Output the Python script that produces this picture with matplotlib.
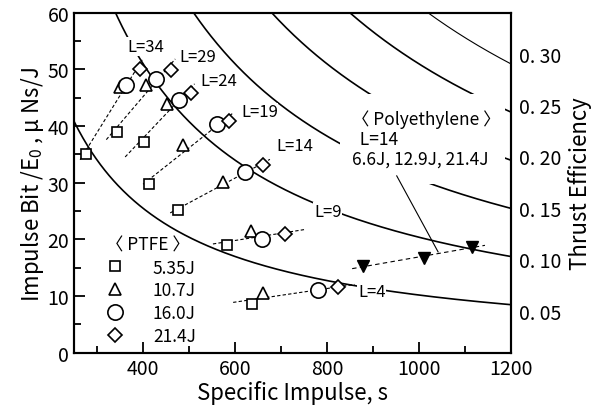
import numpy as np
import matplotlib
matplotlib.use("Agg")
import matplotlib.pyplot as plt
from matplotlib.lines import Line2D
from matplotlib.patches import Rectangle
from matplotlib.ticker import MultipleLocator

plt.rcParams['font.family'] = ['Noto Sans CJK JP', 'DejaVu Sans']
plt.rcParams['mathtext.default'] = 'regular'

# PTFE data: specific impulse (s) and impulse bit / E0 (uNs/J)
# one list per discharge energy, ordered L = 34, 29, 24, 19, 14, 9, 4
L_values = [34, 29, 24, 19, 14, 9, 4]
isp_535 = [275, 344, 402, 413, 476, 583, 637]
ib_535 = [35.0, 39.0, 37.2, 29.7, 25.2, 19.1, 8.6]
isp_107 = [350, 406, 452, 487, 574, 635, 661]
ib_107 = [46.8, 47.3, 43.9, 36.7, 30.1, 21.4, 10.6]
isp_160 = [362, 428, 478, 561, 622, 659, 781]
ib_160 = [47.3, 48.3, 44.6, 40.4, 31.8, 20.1, 11.0]
isp_214 = [394, 461, 504, 588, 661, 709, 825]
ib_214 = [50.0, 49.8, 45.9, 40.9, 33.2, 21.0, 11.6]

# dashed trend line extent for each L (specific impulse, s)
line_start = [263, 320, 361, 400, 459, 552, 596]
line_end = [398, 470, 512, 594, 676, 752, 860]

# Polyethylene, L=14 (6.6J, 12.9J, 21.4J)
isp_pe = [879, 1011, 1116]
ib_pe = [15.3, 16.8, 18.7]
pe_start, pe_end = 855, 1144

# constant thrust efficiency curves
eta_levels = [0.05, 0.10, 0.15, 0.20, 0.25, 0.30]
g0 = 9.81

fig = plt.figure(figsize=(5.98, 4.10), dpi=100)
ax = fig.add_axes([0.124, 0.137, 0.730, 0.830])

isp_grid = np.linspace(250, 1200, 400)
for eta in eta_levels:
    lw = 0.8 if eta == 0.30 else 1.2
    ax.plot(isp_grid, 2 * eta / (g0 * isp_grid) * 1e6, color='black', lw=lw, zorder=1)

# dashed fit line for each L group
for i in range(len(L_values)):
    xs = [isp_535[i], isp_107[i], isp_160[i], isp_214[i]]
    ys = [ib_535[i], ib_107[i], ib_160[i], ib_214[i]]
    k, b = np.polyfit(xs, ys, 1)
    xl = np.array([line_start[i], line_end[i]])
    ax.plot(xl, k * xl + b, color='black', lw=0.8, ls=(0, (3, 2)), zorder=2)

k, b = np.polyfit(isp_pe, ib_pe, 1)
xl = np.array([pe_start, pe_end])
ax.plot(xl, k * xl + b, color='black', lw=0.8, ls=(0, (4, 3)), zorder=2)

mk = dict(ls='none', mfc='white', mec='black', mew=1.2, zorder=4)
ax.plot(isp_535, ib_535, marker='s', ms=7, **mk)
ax.plot(isp_107, ib_107, marker='^', ms=8.5, **mk)
ax.plot(isp_160, ib_160, marker='o', ms=11, **mk)
ax.plot(isp_214, ib_214, marker='D', ms=7, **mk)
ax.plot(isp_pe, ib_pe, marker='v', ms=8, ls='none', color='black', zorder=4)

# L labels
label_pos = [(365, 54.0), (480, 52.2), (524, 48.0), (613, 42.5),
             (691, 36.5), (772, 24.9), (868, 10.9)]
for L, (x, y) in zip(L_values, label_pos):
    ax.text(x, y, f"L={L}", fontsize=12, ha='left', va='center', zorder=5,
            bbox=dict(fc='white', ec='none', pad=0.5))

# Polyethylene note on a white patch that hides the curves behind it
ax.add_patch(Rectangle((0.609, 0.497), 0.378, 0.265, transform=ax.transAxes,
                       fc='white', ec='none', zorder=4.5))
ax.text(855, 37.8, "〈 Polyethylene 〉\n  L=14\n6.6J, 12.9J, 21.4J", fontsize=12.5,
        ha='left', va='center', linespacing=1.1, zorder=5)
ax.plot([952, 1042], [31.2, 17.8], color='black', lw=0.8, zorder=5)

# PTFE legend
handles = [Line2D([], [], marker=m, ms=s, ls='none', mfc='white', mec='black', mew=1.2)
           for m, s in [('s', 7), ('^', 8.5), ('o', 11), ('D', 7)]]
leg = ax.legend(handles, ["5.35J", "10.7J", "16.0J", "21.4J"], title="〈 PTFE 〉",
                loc='upper left', bbox_to_anchor=(0.045, 0.38), frameon=False,
                fontsize=12.5, title_fontsize=12.5, handlelength=1.0,
                handletextpad=1.7, labelspacing=0.28, borderpad=0.2)
leg._legend_box.align = 'left'

ax.set_xlim(250, 1200)
ax.set_ylim(0, 60)
ax.xaxis.set_major_locator(MultipleLocator(200))
ax.xaxis.set_minor_locator(MultipleLocator(100))
ax.yaxis.set_major_locator(MultipleLocator(10))
ax.yaxis.set_minor_locator(MultipleLocator(5))
ax.tick_params(which='both', direction='in', width=1.3, labelsize=14, top=False, right=False)
ax.tick_params(which='major', length=8)
ax.tick_params(which='minor', length=5)
for sp in ax.spines.values():
    sp.set_linewidth(1.5)

ax.set_xlabel("Specific Impulse, s", fontsize=16, labelpad=1)
ax.set_ylabel("Impulse Bit /E$_0$ , μ Ns/J", fontsize=16, labelpad=1)

# right axis: thrust efficiency labels
ax2 = ax.twinx()
ax2.set_ylim(0.009, 0.340)
ax2.set_yticks(eta_levels)
ax2.set_yticklabels([f"0. {int(round(e * 100)):02d}" for e in eta_levels])
ax2.tick_params(length=0, labelsize=14, pad=6)
ax2.set_ylabel("Thrust Efficiency", fontsize=16, labelpad=5)
for sp in ax2.spines.values():
    sp.set_linewidth(1.5)

fig.savefig("out.png", dpi=100)
